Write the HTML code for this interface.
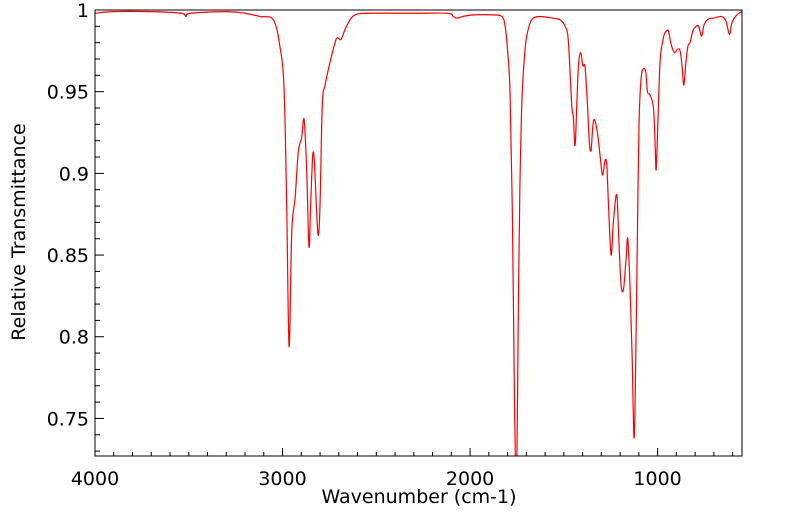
<!DOCTYPE html>
<html><head><meta charset="utf-8"><style>
html,body{margin:0;padding:0;background:#fff;}
svg{display:block;font-family:"DejaVu Sans","Liberation Sans",sans-serif;}
</style></head><body>
<svg id="chart" width="799" height="516" viewBox="0 0 799 516" xmlns="http://www.w3.org/2000/svg">
<defs><clipPath id="plotclip"><rect x="95" y="10" width="647" height="446"/></clipPath></defs>
<rect x="95" y="10" width="647" height="446" fill="#fff"/>
<g id="ticks"></g>
<g id="series" clip-path="url(#plotclip)"></g>
<rect x="95" y="10" width="647" height="446" fill="none" stroke="#000" stroke-width="1"/>
<text x="419" y="503" font-size="19" text-anchor="middle">Wavenumber (cm-1)</text>
<text transform="translate(25,232) rotate(-90)" font-size="19" text-anchor="middle">Relative Transmittance</text>
</svg>
<script>
const xTickValues = [4000, 3000, 2000, 1000];
const yTickValues = [1, 0.95, 0.9, 0.85, 0.8, 0.75];
const yTickLabels = ["1", "0.95", "0.9", "0.85", "0.8", "0.75"];
const wavenumbers = [4000,3900,3700,3540,3515,3490,3300,3200,3120,3049,3013,2992,2978,2965,2951,2933,2916,2898,2885,2871,2859,2850,2839,2830,2818,2809,2800,2788,2773,2747,2720,2708,2688,2667,2640,2613,2550,2300,2120,2090,2070,2040,1980,1880,1830,1813,1800,1787,1775,1765,1755,1748,1744,1738,1733,1725,1717,1705,1696,1680,1664,1627,1560,1520,1493,1476,1458,1449,1440,1431,1422,1410,1399,1387,1374,1364,1355,1346,1337,1321,1307,1294,1280,1271,1262,1248,1236,1218,1207,1195,1182,1168,1159,1147,1136,1125,1115,1108,1099,1088,1076,1063,1054,1040,1022,1013,1008,1001,987,969,955,942,928,910,893,880,869,860,849,838,827,813,795,781,765,752,729,703,658,635,617,604,578,551];
const transmittance = [0.998,0.999,0.999,0.998,0.996,0.998,0.999,0.998,0.996,0.994,0.977,0.952,0.881,0.794,0.864,0.885,0.913,0.922,0.933,0.901,0.855,0.881,0.911,0.907,0.876,0.862,0.881,0.942,0.954,0.968,0.980,0.983,0.982,0.988,0.994,0.997,0.998,0.998,0.998,0.996,0.995,0.996,0.997,0.997,0.996,0.99,0.975,0.95,0.88,0.78,0.70,0.75,0.80,0.86,0.90,0.94,0.96,0.978,0.985,0.992,0.995,0.996,0.995,0.994,0.990,0.981,0.942,0.934,0.917,0.942,0.966,0.974,0.966,0.965,0.942,0.919,0.914,0.928,0.933,0.925,0.911,0.899,0.908,0.905,0.881,0.850,0.870,0.887,0.860,0.832,0.829,0.848,0.860,0.830,0.789,0.738,0.799,0.860,0.931,0.958,0.964,0.962,0.950,0.948,0.940,0.917,0.902,0.922,0.968,0.983,0.987,0.987,0.979,0.974,0.976,0.975,0.965,0.954,0.968,0.978,0.980,0.987,0.990,0.990,0.984,0.991,0.9945,0.995,0.996,0.993,0.985,0.992,0.997,0.999];

const X0=95, X1=742, Y0=10, Y1=456;
const xMin=4000, xMax=550, yTop=1, yBot=0.727;
function xs(v){return X0+(xMin-v)/(xMin-xMax)*(X1-X0);}
function ys(v){return Y0+(yTop-v)/(yTop-yBot)*(Y1-Y0);}
const NS="http://www.w3.org/2000/svg";
const svg=document.getElementById('chart');
const tg=document.getElementById('ticks');
function line(x1,y1,x2,y2,name){
  const l=document.createElementNS(NS,'line');
  l.setAttribute('x1',x1);l.setAttribute('y1',y1);l.setAttribute('x2',x2);l.setAttribute('y2',y2);
  l.setAttribute('stroke','#000');l.setAttribute('stroke-width','1');
  
  
  tg.appendChild(l);
}
for(let v=4000; v>=600; v-=100){
  const major = v%1000===0;
  const x=xs(v);
  line(x,Y1,x,Y1-(major?8:4),'x-tick');
}
for(let i=0;i<xTickValues.length;i++){
  const t=document.createElementNS(NS,'text');
  t.setAttribute('x',xs(xTickValues[i]));t.setAttribute('y',485);
  t.setAttribute('font-size','19');t.setAttribute('text-anchor','middle');
  t.textContent=String(xTickValues[i]);
  
  
  svg.appendChild(t);
}
for(let v=0.73; v<=1.0001; v+=0.01){
  const r=Math.round(v*100);
  const major = r%5===0;
  const y=ys(r/100);
  line(X0,y,X0+(major?9:5),y,'y-tick');
}
for(let i=0;i<yTickValues.length;i++){
  const t=document.createElementNS(NS,'text');
  t.setAttribute('x',89);t.setAttribute('y',ys(yTickValues[i])+7);
  t.setAttribute('font-size','19');t.setAttribute('text-anchor','end');
  t.textContent=yTickLabels[i];
  
  
  svg.appendChild(t);
}
const pts=wavenumbers.map((w,i)=>[xs(w),ys(transmittance[i])]);
let d='M'+pts[0][0].toFixed(2)+','+pts[0][1].toFixed(2);
for(let i=0;i<pts.length-1;i++){
  const p0=pts[Math.max(0,i-1)],p1=pts[i],p2=pts[i+1],p3=pts[Math.min(pts.length-1,i+2)];
  const c1x=p1[0]+(p2[0]-p0[0])/6, c1y=p1[1]+(p2[1]-p0[1])/6;
  const c2x=p2[0]-(p3[0]-p1[0])/6, c2y=p2[1]-(p3[1]-p1[1])/6;
  d+=' C'+c1x.toFixed(2)+','+c1y.toFixed(2)+' '+c2x.toFixed(2)+','+c2y.toFixed(2)+' '+p2[0].toFixed(2)+','+p2[1].toFixed(2);
}
const path=document.createElementNS(NS,'path');
path.setAttribute('d',d);path.setAttribute('fill','none');path.setAttribute('stroke','#ff0000');path.setAttribute('stroke-width','1.2');


document.getElementById('series').appendChild(path);
</script>
</body></html>
